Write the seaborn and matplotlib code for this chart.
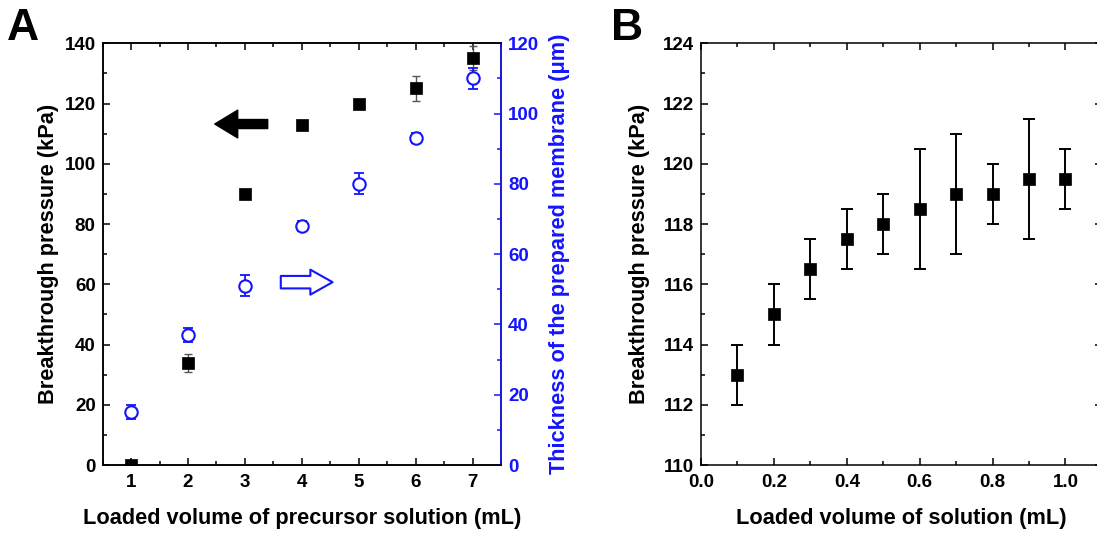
import matplotlib
matplotlib.use('Agg')
import matplotlib.pyplot as plt
import seaborn as sns
from matplotlib.ticker import MultipleLocator, FormatStrFormatter

# panel A: breakthrough pressure (left) and thickness (right) vs precursor volume
vol_a = [1, 2, 3, 4, 5, 6, 7]
pressure_a = [0, 34, 90, 113, 120, 125, 135]
pressure_a_err = [0, 3, 0, 0, 0, 4, 4]
thick_a = [15, 37, 51, 68, 80, 93, 110]
thick_a_err = [2, 2, 3, 1.5, 3, 1.5, 3]

# panel B: breakthrough pressure vs solution volume
vol_b = [0.1, 0.2, 0.3, 0.4, 0.5, 0.6, 0.7, 0.8, 0.9, 1.0]
pressure_b = [113, 115, 116.5, 117.5, 118, 118.5, 119, 119, 119.5, 119.5]
pressure_b_err = [1, 1, 1, 1, 1, 2, 2, 1, 2, 1]

BLUE = '#1414ff'

sns.set_style('ticks', {'text.color': 'black', 'axes.labelcolor': 'black',
                        'xtick.color': 'black', 'ytick.color': 'black',
                        'axes.edgecolor': 'black'})
plt.rcParams['font.family'] = ['Liberation Sans', 'DejaVu Sans']
plt.rcParams['font.weight'] = 'bold'
plt.rcParams['axes.labelweight'] = 'bold'
plt.rcParams['axes.linewidth'] = 1.1

fig = plt.figure(figsize=(10.97, 5.34), dpi=100)
axA = fig.add_axes([0.0936, 0.1292, 0.3631, 0.7897])
axB = fig.add_axes([0.6390, 0.1292, 0.3655, 0.7897])
axA2 = axA.twinx()


def style_ticks(ax, color='black', **kw):
    ax.tick_params(which='major', direction='in', length=5, width=1.1,
                   labelsize=13.5, colors=color, **kw)
    ax.tick_params(which='minor', direction='in', length=3, width=1.1,
                   colors=color, **kw)
    ax.tick_params(axis='x', which='major', pad=6.5)
    ax.tick_params(axis='y', which='major', pad=5)


# ---- panel A
axA.errorbar(vol_a, pressure_a, yerr=pressure_a_err, fmt='none',
             ecolor='#555555', elinewidth=1, capsize=3, capthick=1, zorder=2)
sns.scatterplot(x=vol_a, y=pressure_a, marker='s', s=80, color='black',
                edgecolor='black', linewidth=0.5, ax=axA, zorder=3)
axA.set_xlim(0.5, 7.5)
axA.set_ylim(0, 140)
axA.xaxis.set_major_locator(MultipleLocator(1))
axA.xaxis.set_minor_locator(MultipleLocator(0.5))
axA.yaxis.set_major_locator(MultipleLocator(20))
axA.yaxis.set_minor_locator(MultipleLocator(10))
style_ticks(axA, top=True, right=False)
axA.set_xlabel('Loaded volume of precursor solution (mL)', fontsize=15.7)
axA.set_ylabel('Breakthrough pressure (kPa)', fontsize=15.7)

axA2.errorbar(vol_a, thick_a, yerr=thick_a_err, fmt='none',
              ecolor=BLUE, elinewidth=1.3, capsize=3.5, capthick=1.3, zorder=2)
sns.scatterplot(x=vol_a, y=thick_a, marker='o', s=80, facecolor='white',
                edgecolor=BLUE, linewidth=1.5, ax=axA2, zorder=3)
axA2.set_ylim(0, 120)
axA2.yaxis.set_major_locator(MultipleLocator(20))
axA2.yaxis.set_minor_locator(MultipleLocator(10))
style_ticks(axA2, color=BLUE)
axA2.spines['right'].set_color(BLUE)
axA2.set_ylabel('Thickness of the prepared membrane (\u03bcm)', fontsize=15.7,
                color=BLUE)

# direction arrows
axA.annotate('', xy=(2.47, 113.2), xytext=(3.4, 113.2),
             arrowprops=dict(arrowstyle='simple,head_length=1.65,head_width=2.0,tail_width=0.65',
                             fc='black', ec='black', mutation_scale=10,
                             shrinkA=0, shrinkB=0))
axA.annotate('', xy=(4.54, 60.7), xytext=(3.63, 60.7),
             arrowprops=dict(arrowstyle='simple,head_length=1.6,head_width=1.8,tail_width=0.9',
                             fc='white', ec=BLUE, lw=1.5, mutation_scale=10,
                             shrinkA=0, shrinkB=0))

# ---- panel B
axB.errorbar(vol_b, pressure_b, yerr=pressure_b_err, fmt='none',
             ecolor='black', elinewidth=1.4, capsize=4, capthick=1.4, zorder=2)
sns.scatterplot(x=vol_b, y=pressure_b, marker='s', s=85, color='black',
                edgecolor='black', linewidth=0.5, ax=axB, zorder=3)
axB.set_xlim(0, 1.1)
axB.set_ylim(110, 124)
axB.xaxis.set_major_locator(MultipleLocator(0.2))
axB.xaxis.set_minor_locator(MultipleLocator(0.1))
axB.yaxis.set_major_locator(MultipleLocator(2))
axB.yaxis.set_minor_locator(MultipleLocator(1))
axB.xaxis.set_major_formatter(FormatStrFormatter('%.1f'))
style_ticks(axB, top=True, right=True)
axB.set_xlabel('Loaded volume of solution (mL)', fontsize=15.7)
axB.set_ylabel('Breakthrough pressure (kPa)', fontsize=15.7)

# label placement
axA.xaxis.set_label_coords(0.5, -0.128)
axA.yaxis.set_label_coords(-0.137, 0.5)
axA2.yaxis.set_label_coords(1.148, 0.5)
axB.xaxis.set_label_coords(0.5, -0.128)
axB.yaxis.set_label_coords(-0.154, 0.5)
for lab in [axA.xaxis.label, axB.xaxis.label]:
    lab.set_va('center')
for lab in [axA.yaxis.label, axA2.yaxis.label, axB.yaxis.label]:
    lab.set_va('center')

fig.text(0.006, 0.985, 'A', fontsize=32, fontweight='bold', va='top', color='black')
fig.text(0.557, 0.985, 'B', fontsize=32, fontweight='bold', va='top', color='black')

fig.savefig('out.png', dpi=100)
